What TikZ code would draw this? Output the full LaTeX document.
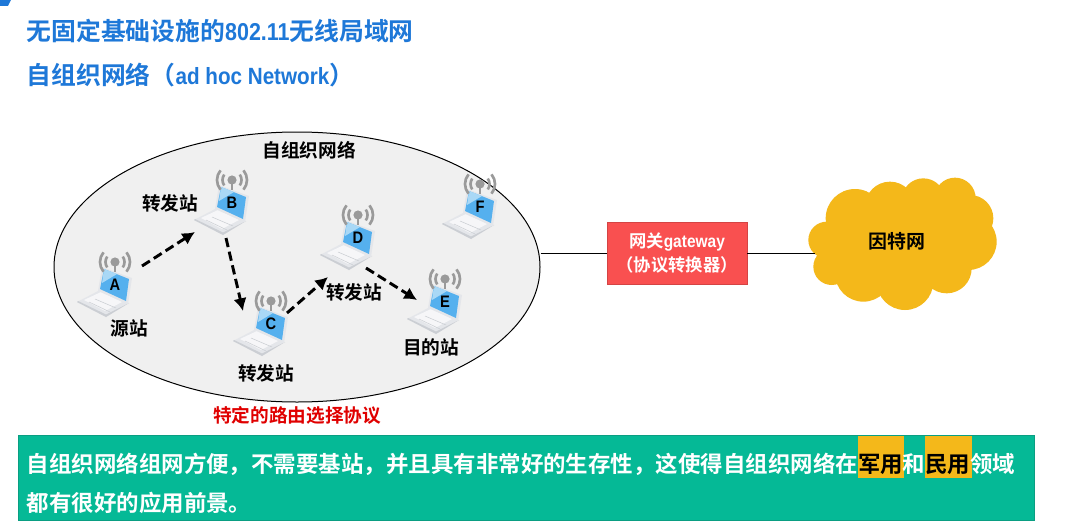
\documentclass[tikz,border=0pt]{standalone}
\usepackage{fontspec}
\usetikzlibrary{arrows.meta,calc,shapes.geometric}
\setmainfont{Noto Sans CJK SC}[BoldFont={* Bold}]
\newfontfamily\latn{Liberation Sans}[BoldFont={* Bold},FakeStretch=0.88]
\newcommand{\fpx}[1]{\fontsize{#1}{#1}\selectfont\bfseries}
\definecolor{titleblue}{HTML}{1E78D8}
\definecolor{goldc}{HTML}{F4B81A}
\definecolor{greenc}{HTML}{05B996}
\definecolor{greenl}{HTML}{0A9E82}
\definecolor{redc}{HTML}{F95050}
\definecolor{ellc}{HTML}{F0F0F0}
\definecolor{scr}{HTML}{55B0EE}
\definecolor{scrl}{HTML}{A9D8F6}
\definecolor{silver}{HTML}{E4E6EA}
\definecolor{silverd}{HTML}{CBCED3}
\definecolor{keys}{HTML}{F6F6F8}
\definecolor{ant}{HTML}{9A9A9A}
\tikzset{
  x=0.75pt,y=0.75pt,
  titletext/.style={anchor=west,inner sep=0pt,text=titleblue},
  blacklabel/.style={inner sep=0pt,text=black,font=\fpx{14}},
  letter/.style={inner sep=0pt,text=black,font=\latn\fpx{12.5}},
  hop/.style={black,line width=2.2pt,dash pattern=on 7pt off 3.5pt,-{Latex[length=9.5pt,width=10pt]}},
  wire/.style={black,line width=0.75pt},
  laptop/.pic={
    \fill[silver] (-38,-17) -- (-15,-5) -- (12,-17) -- (14,-18) -- (-9,-32) -- cycle;
    \fill[silverd] (-38,-17) -- (-9,-32) -- (14,-18) -- (-9,-29.5) -- (-37,-16) -- cycle;
    \fill[keys] (-31,-15) -- (-14,-7) -- (7,-17) -- (-10,-26) -- cycle;
    \draw[silverd,line width=0.4pt] (-26,-17) -- (-5,-27);
    \draw[silverd,line width=0.4pt] (-20,-14) -- (1,-23);
    \fill[silver] (-13,18) -- (17,7) -- (13,-19) -- (-17,-6) -- cycle;
    \fill[scr] (-11,16) -- (14,6) -- (11,-16) -- (-15,-4) -- cycle;
    \fill[scrl] (-11,16) -- (2,11) -- (-13,2) -- cycle;
    \draw[ant,line width=1.5pt] (0,23) -- (0,13);
    \fill[ant] (0,23) circle (4.6);
    \draw[ant,line width=2pt] (0,23) ++(145:9.5) arc (145:215:9.5);
    \draw[ant,line width=2pt] (0,23) ++(35:9.5) arc (35:-35:9.5);
    \draw[ant,line width=2pt] (0,23) ++(140:15) arc (140:220:15);
    \draw[ant,line width=2pt] (0,23) ++(40:15) arc (40:-40:15);
  }
}
\begin{document}
\begin{tikzpicture}
\useasboundingbox (0,0) rectangle (1070,-528);
\fill[white] (0,0) rectangle (1070,-528);
% corner mark
\fill[titleblue] (0,0) -- (11,0) -- (8,-6) -- (0,-6) -- cycle;
% titles
\node[titletext] (t1) at (26.5,-31) {\fpx{18.6}无固定基础设施的{\latn\fpx{18.3}802.11}无线局域网};
\node[titletext] (t2) at (26.5,-75) {\fpx{18.6}自组织网络（{\latn\fpx{17.6}ad hoc Network}）};
% ellipse
\node[draw=black,fill=ellc,line width=0.75pt,ellipse,inner sep=0pt,minimum width=364.5pt,minimum height=202.5pt] (net) at (297,-267) {};
% laptops
\foreach \nm/\px/\py in {A/115/285,B/232/203,C/271/324,D/358/238,E/445/302,F/480/207}{
  \pic at (\px,-\py) {laptop};
  \node[letter] (\nm) at (\px,-\py) {\nm};
}
% hop arrows
\draw[hop] ([shift={(27,19)}]A.center) -- ([shift={(-37,-29)}]B.center);
\draw[hop] ([shift={(-6,-35)}]B.center) -- ([shift={(-28,13)}]C.center);
\draw[hop] ([shift={(16,11)}]C.center) -- ([shift={(-30,-39)}]D.center);
\draw[hop] ([shift={(8,-30)}]D.center) -- ([shift={(-28,2)}]E.center);
% labels
\node[blacklabel] (lnet) at (309,-150) {自组织网络};
\node[blacklabel] (lb) at (170,-203) {转发站};
\node[blacklabel] (la) at (129,-328) {源站};
\node[blacklabel] (lc) at (266,-373) {转发站};
\node[blacklabel] (ld) at (354,-292) {转发站};
\node[blacklabel] (le) at (431,-347) {目的站};
\node[inner sep=0pt,text={rgb,255:red,224;green,0;blue,0},font=\fpx{14}] (proto) at (297,-415) {特定的路由选择协议};
% gateway
\node[fill=redc,draw=redc!85!black,line width=0.5pt,minimum width=105pt,minimum height=46.5pt,inner sep=0pt,align=center,text=white] (gw) at (677,-253)
  {\fpx{13}\raisebox{-1.5pt}{网关{\latn\fpx{13.2}gateway}}\\[3pt]\fpx{13}\raisebox{-1.5pt}{（协议转换器）}};
% cloud
\begin{scope}[goldc]
\foreach \cx/\cy/\cr in {225/145/88,330/110/75,430/90/65,525/85/62,570/145/70,565/215/85,500/295/75,375/335/85,250/310/85,155/290/55,140/210/55,350/210/150,250/210/120,450/210/120,480/170/90,400/170/90,300/260/100,430/260/100}{
  \fill ({780+\cx/3},{-170-\cy/3}) circle ({\cr/3});
}
\end{scope}
\node[minimum width=123pt,minimum height=100pt,inner sep=0pt,text=black,font=\fpx{14.2}] (cloud) at (897,-241) {因特网};
% wires
\draw[wire] (net.east |- gw.west) -- (gw.west);
\draw[wire] (gw.east) -- (gw.east -| cloud.west);
% bottom box
\node[fill=greenc,draw=greenl,line width=0.75pt,minimum width=762pt,minimum height=63.75pt,inner sep=0pt] (box) at (526,-477.5) {};
\fill[goldc] (858,-436) rectangle (904,-478);
\fill[goldc] (925,-436) rectangle (972,-478);
\node[anchor=west,inner sep=0pt,text=white,font=\fpx{16.85}] (b1) at (26.5,-464)
  {自组织网络组网方便，不需要基站，并且具有非常好的生存性，这使得自组织网络在\textcolor{black}{军用}和\textcolor{black}{民用}领域};
\node[anchor=west,inner sep=0pt,text=white,font=\fpx{16.85}] (b2) at (26.5,-503) {都有很好的应用前景。};
\end{tikzpicture}
\end{document}
